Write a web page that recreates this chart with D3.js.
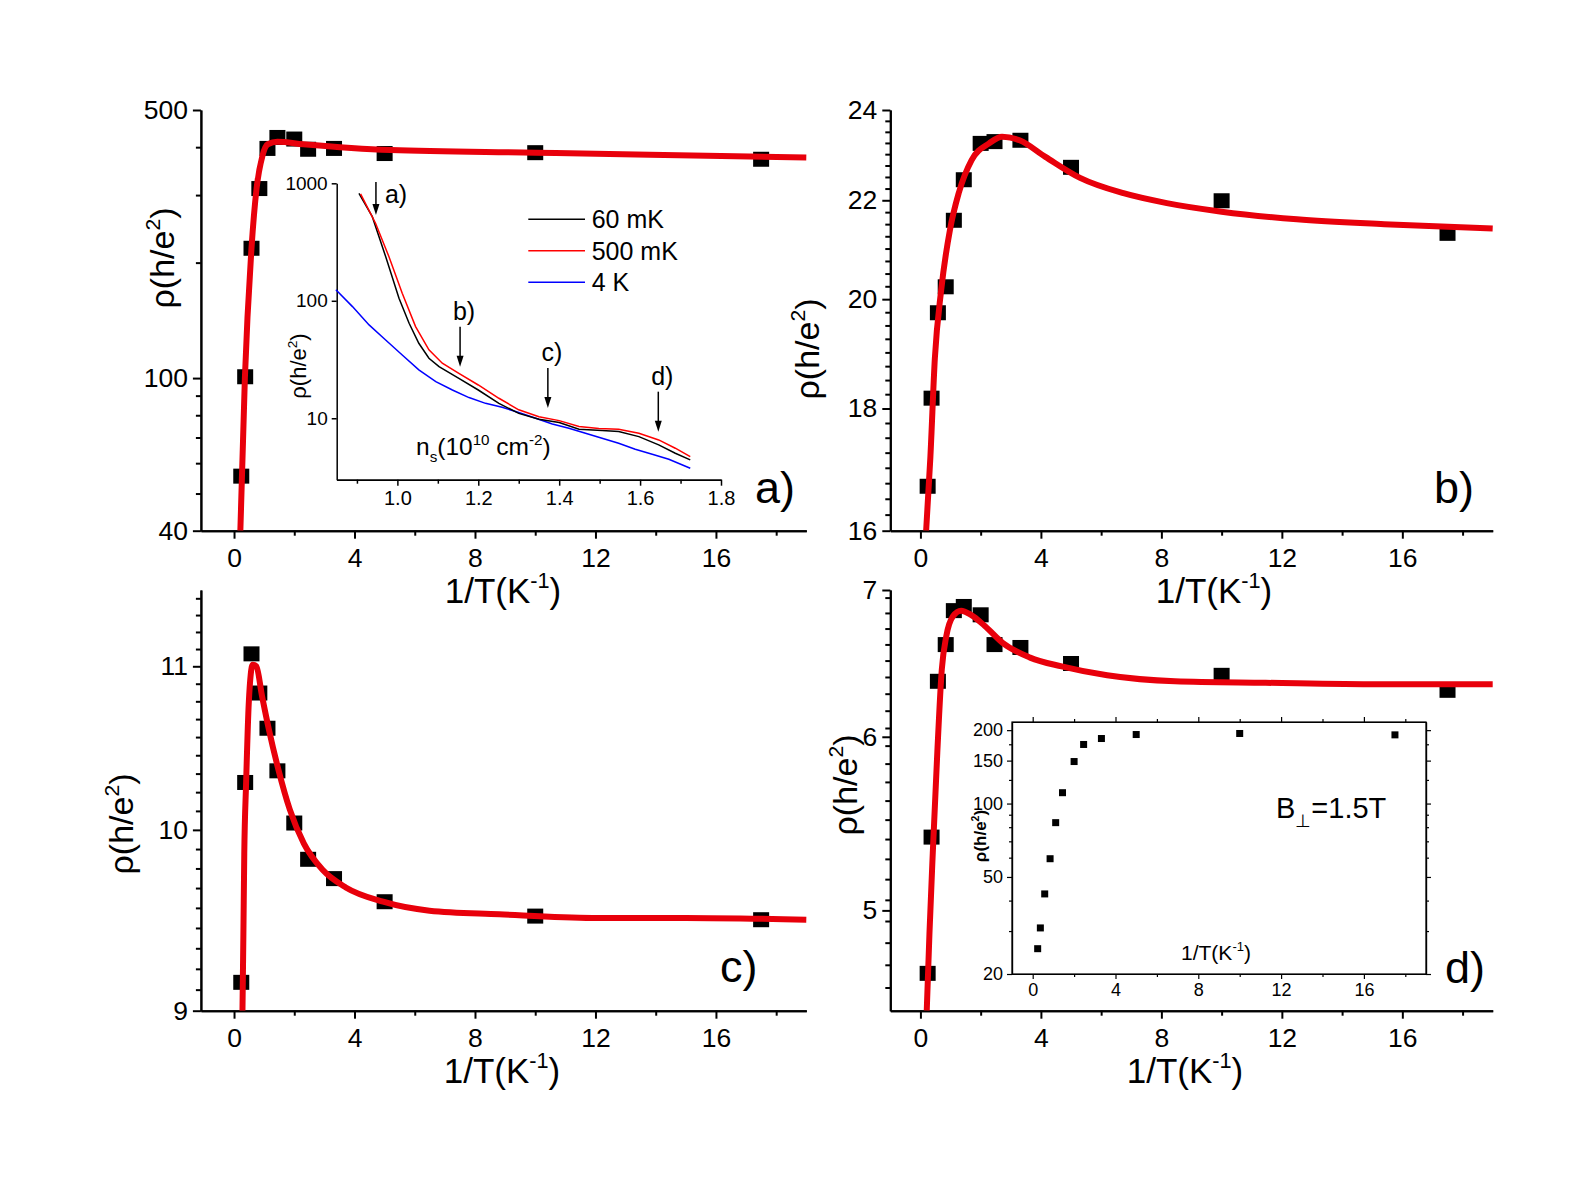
<!DOCTYPE html>
<html>
<head>
<meta charset="utf-8">
<script src="https://cdn.jsdelivr.net/npm/d3@7"></script>
<style>
  html, body { margin: 0; padding: 0; background: #fff; }
  svg { display: block; }
</style>
</head>
<body>
<svg id="fig" width="1582" height="1186"></svg>
<script>
// resistivity vs 1/T, four densities a)-d), with two insets

// 1/T values (K^-1) shared by all panels
const INV_T = [0.24, 0.37, 0.58, 0.84, 1.11, 1.44, 2.0, 2.46, 3.32, 5.0, 10.0, 17.5];

// measured rho (h/e^2)
const RHO_A = [55.5, 100.8, 218, 312, 397, 424, 420, 395, 397, 385, 387, 372];
const RHO_B = [16.70, 18.18, 19.74, 20.24, 21.58, 22.44, 23.24, 23.28, 23.31, 22.71, 21.99, 21.31];
const RHO_C = [9.15, 10.28, 11.08, 10.83, 10.61, 10.35, 10.04, 9.83, 9.72, 9.59, 9.51, 9.49];
const RHO_D = [4.68, 5.40, 6.36, 6.61, 6.85, 6.88, 6.82, 6.61, 6.59, 6.48, 6.40, 6.30];
const RHO_D_FIELD = [25.4, 30.9, 42.6, 59.4, 83.5, 110.8, 148.7, 174.7, 184.8, 191.9, 193.8, 191.3];

// fit curves
const FIT_A_X = [0.21, 0.36, 0.58, 0.75, 0.94, 1.12, 1.44, 2.3, 5.2, 10.0, 13.8, 19.0];
const FIT_A_Y = [40, 100, 218, 313, 379, 407, 413, 407, 393, 387, 382, 376];
const FIT_B_X = [0.19, 0.33, 0.48, 0.69, 0.98, 1.27, 1.70, 2.28, 2.71, 3.29, 4.15, 5.30, 6.74, 8.18, 10.0, 12.5, 15.4, 19.0];
const FIT_B_Y = [16.0, 17.17, 18.9, 20.18, 21.38, 22.15, 22.87, 23.24, 23.39, 23.31, 22.94, 22.48, 22.15, 21.94, 21.76, 21.60, 21.50, 21.41];
const FIT_C_X = [0.28, 0.31, 0.34, 0.40, 0.49, 0.62, 0.74, 0.93, 1.16, 1.47, 1.85, 2.32, 2.94, 3.71, 4.95, 6.49, 8.81, 11.9, 15.0, 19.0];
const FIT_C_Y = [9.0, 9.40, 9.86, 10.27, 10.77, 11.01, 11.0, 10.81, 10.60, 10.36, 10.12, 9.92, 9.77, 9.67, 9.59, 9.54, 9.52, 9.50, 9.50, 9.49];
const FIT_D_X = [0.21, 0.30, 0.41, 0.56, 0.71, 0.86, 1.08, 1.35, 1.68, 2.14, 2.74, 3.64, 4.69, 6.20, 8.45, 11.46, 15.2, 19.0];
const FIT_D_Y = [4.5, 4.88, 5.31, 5.90, 6.44, 6.67, 6.81, 6.85, 6.82, 6.74, 6.62, 6.52, 6.46, 6.40, 6.36, 6.35, 6.34, 6.34];

// inset a): rho vs n_s (10^10 cm^-2)
const NS_60MK_X = [0.905, 0.938, 0.971, 1.004, 1.029, 1.053, 1.078, 1.103, 1.152, 1.2, 1.251, 1.30, 1.35, 1.40, 1.449, 1.506, 1.547, 1.597, 1.646, 1.687, 1.724];
const NS_60MK_Y = [822, 520, 238, 105, 64.4, 43.5, 32.4, 27.5, 21.9, 17.4, 13.4, 11.0, 9.8, 9.2, 8.06, 7.85, 7.7, 6.98, 5.93, 5.04, 4.42];
const NS_500MK_X = [0.909, 0.946, 0.979, 1.012, 1.045, 1.078, 1.111, 1.152, 1.2, 1.251, 1.30, 1.35, 1.40, 1.449, 1.498, 1.547, 1.597, 1.646, 1.687, 1.724];
const NS_500MK_Y = [812, 457, 238, 116, 60.3, 38.2, 29.4, 24.1, 19.2, 14.8, 11.8, 10.3, 9.55, 8.5, 8.2, 8.06, 7.45, 6.54, 5.56, 4.72];
const NS_4K_X = [0.848, 0.889, 0.93, 0.971, 1.012, 1.053, 1.095, 1.136, 1.177, 1.218, 1.259, 1.30, 1.342, 1.383, 1.424, 1.465, 1.506, 1.547, 1.588, 1.63, 1.671, 1.724];
const NS_4K_Y = [124, 89.2, 62.3, 46.4, 34.6, 25.8, 20.5, 17.4, 15.0, 13.4, 12.4, 11.2, 10.0, 8.95, 8.22, 7.45, 6.76, 6.13, 5.45, 4.94, 4.48, 3.75];
const LEGEND_NAMES = ['60 mK', '500 mK', '4 K'];
const ARROW_LABELS = ['a)', 'b)', 'c)', 'd)'];
const ARROW_NS = [0.947, 1.155, 1.372, 1.645];
const ARROW_TIP_RHO = [537, 27.5, 12.2, 7.69];

// tick values
const X_MAJOR = [0, 4, 8, 12, 16];
const X_MINOR = [2, 6, 10, 14, 18];
const A_Y_TICKS = [40, 100, 500];
const A_Y_MINOR = [50, 60, 70, 80, 90, 200, 300, 400];
const B_Y_TICKS = [16, 18, 20, 22, 24];
const C_Y_TICKS = [9, 10, 11];
const D_Y_TICKS = [5, 6, 7];
const INSET_A_X_TICKS = [1.0, 1.2, 1.4, 1.6, 1.8];
const INSET_A_X_MINOR = [0.9, 1.1, 1.3, 1.5, 1.7];
const INSET_A_Y_TICKS = [10, 100, 1000];
const INSET_D_Y_TICKS = [20, 50, 100, 150, 200];
const INSET_D_Y_MINOR = [30, 40, 60, 70, 80, 90, 125, 175];

(function () {
    'use strict';

    const FONT = '"Liberation Sans", Arial, Helvetica, sans-serif';
    const RED = '#e8000b';
    const TICK_FS = 26.5;
    const svg = d3.select('#fig').attr('font-family', FONT);

    // minor ticks evenly spaced between majors (Origin style)
    function evenMinor(lo, hi, step) {
        return d3.range(lo, hi + 1e-9, step).filter(function (v) {
            return Math.abs(v - Math.round(v)) > 1e-6;
        });
    }

    const PANELS = [
        { id: 'a', left: 200.9, right: 806.3, top: 110, bottom: 530.7, xMin: -1.1,
          yDomain: [40, 500], yTicks: A_Y_TICKS, yMinor: A_Y_MINOR,
          rho: RHO_A, fitX: FIT_A_X, fitY: FIT_A_Y,
          label: 'a)', labelX: 755, labelY: 503, yTitleX: 174, yTitleY: 258, xTitleX: 503 },
        { id: 'b', left: 890.3, right: 1492.7, top: 110, bottom: 530.7, xMin: -1,
          yDomain: [16, 24], yTicks: B_Y_TICKS, yMinor: d3.range(16.25, 24, 0.25).filter(function (v) { return v % 2 !== 0; }),
          rho: RHO_B, fitX: FIT_B_X, fitY: FIT_B_Y,
          label: 'b)', labelX: 1434, labelY: 503, yTitleX: 819, yTitleY: 349, xTitleX: 1214 },
        { id: 'c', left: 200.9, right: 806.3, top: 590, bottom: 1010.7, xMin: -1.1,
          yDomain: [9, 11.5], yTicks: C_Y_TICKS, yMinor: evenMinor(9, 11.5, 1 / 9),
          rho: RHO_C, fitX: FIT_C_X, fitY: FIT_C_Y,
          label: 'c)', labelX: 720, labelY: 982, yTitleX: 133, yTitleY: 824, xTitleX: 502 },
        { id: 'd', left: 890.3, right: 1492.7, top: 590, bottom: 1010.7, xMin: -1,
          yDomain: [4.5, 7], yTicks: D_Y_TICKS, yMinor: evenMinor(4.5, 7, 1 / 9).filter(function (v) { return v > 4.5; }),
          rho: RHO_D, fitX: FIT_D_X, fitY: FIT_D_Y,
          label: 'd)', labelX: 1445, labelY: 983, yTitleX: 857, yTitleY: 785, xTitleX: 1185 }
    ];

    /**
     * write text made of normal / superscript / subscript pieces
     */
    function richText(textSel, parts, fs) {
        let shift = 0;
        parts.forEach(function (p) {
            const t = textSel.append('tspan').text(p[0]);
            let target = 0;
            if (p[1] === 'sup') { target = -0.42 * fs; }
            if (p[1] === 'sub') { target = 0.3 * fs; }
            t.attr('dy', target - shift);
            shift = target;
            if (p[1]) { t.attr('font-size', (0.62 * fs) + 'px'); }
        });
        return textSel;
    }

    function styleAxis(sel, width, fs) {
        sel.attr('font-family', FONT);
        sel.select('.domain').attr('stroke', '#000').attr('stroke-width', width);
        sel.selectAll('.tick line').attr('stroke', '#000').attr('stroke-width', width);
        sel.selectAll('.tick text').attr('fill', '#000').attr('font-size', fs + 'px');
    }

    const RHO_PARTS = [['\u03c1(h/e'], ['2', 'sup'], [')']];
    const INVT_PARTS = [['1/T(K'], ['-1', 'sup'], [')']];

    function drawMainPanel(p) {
        const x = d3.scaleLinear().domain([p.xMin, 19]).range([p.left, p.right]);
        const y = d3.scaleLog().domain(p.yDomain).range([p.bottom, p.top]);
        const g = svg.append('g').attr('class', 'panel-' + p.id);

        g.append('clipPath').attr('id', 'clip-' + p.id)
            .append('rect')
            .attr('x', p.left).attr('y', p.top)
            .attr('width', p.right - p.left + 4).attr('height', p.bottom - p.top);

        // axes: minor ticks, then major ticks with labels
        g.append('g').attr('transform', 'translate(0,' + p.bottom + ')')
            .call(d3.axisBottom(x).tickValues(X_MINOR).tickSize(5).tickSizeOuter(0).tickFormat(''))
            .call(styleAxis, 2, TICK_FS);
        g.append('g').attr('transform', 'translate(0,' + p.bottom + ')')
            .call(d3.axisBottom(x).tickValues(X_MAJOR).tickSize(8).tickSizeOuter(0).tickPadding(9).tickFormat(d3.format('d')))
            .call(styleAxis, 2, TICK_FS);
        g.append('g').attr('transform', 'translate(' + p.left + ',0)')
            .call(d3.axisLeft(y).tickValues(p.yMinor).tickSize(5).tickSizeOuter(0).tickFormat(''))
            .call(styleAxis, 2, TICK_FS);
        g.append('g').attr('transform', 'translate(' + p.left + ',0)')
            .call(d3.axisLeft(y).tickValues(p.yTicks).tickSize(8).tickSizeOuter(0).tickPadding(5).tickFormat(d3.format('d')))
            .call(styleAxis, 2, TICK_FS);

        // data squares
        g.append('g').selectAll('rect')
            .data(p.rho.map(function (v, i) { return { t: INV_T[i], v: v }; }))
            .enter().append('rect')
            .attr('x', function (d) { return x(d.t) - 8; })
            .attr('y', function (d) { return y(d.v) - 7.5; })
            .attr('width', 16).attr('height', 15)
            .attr('fill', '#000');

        // fit line
        const line = d3.line()
            .x(function (d) { return x(d[0]); })
            .y(function (d) { return y(d[1]); })
            .curve(d3.curveMonotoneX);
        g.append('path')
            .datum(p.fitX.map(function (v, i) { return [v, p.fitY[i]]; }))
            .attr('clip-path', 'url(#clip-' + p.id + ')')
            .attr('d', line)
            .attr('fill', 'none')
            .attr('stroke', RED)
            .attr('stroke-width', 6)
            .attr('stroke-linejoin', 'round');

        // titles
        richText(g.append('text')
            .attr('x', p.xTitleX).attr('y', p.bottom + 72)
            .attr('text-anchor', 'middle')
            .attr('font-size', '35px'), INVT_PARTS, 35);
        richText(g.append('text')
            .attr('transform', 'translate(' + p.yTitleX + ',' + p.yTitleY + ') rotate(-90)')
            .attr('text-anchor', 'middle')
            .attr('font-size', '34px'), RHO_PARTS, 34);
        g.append('text')
            .attr('x', p.labelX).attr('y', p.labelY)
            .attr('font-size', '45px')
            .text(p.label);
    }

    PANELS.forEach(drawMainPanel);

    // ---------------- inset of panel a) ----------------
    (function drawInsetA() {
        const g = svg.append('g').attr('class', 'inset-a');
        const x = d3.scaleLinear().domain([0.85, 1.8]).range([336.7, 721]);
        const y = d3.scaleLog().domain([3, 1000]).range([479.7, 183.3]);

        g.append('g').attr('transform', 'translate(0,479.7)')
            .call(d3.axisBottom(x).tickValues(INSET_A_X_MINOR).tickSize(4).tickSizeOuter(0).tickFormat(''))
            .call(styleAxis, 1.5, 20);
        g.append('g').attr('transform', 'translate(0,479.7)')
            .call(d3.axisBottom(x).tickValues(INSET_A_X_TICKS).tickSize(6).tickSizeOuter(0).tickPadding(5).tickFormat(d3.format('.1f')))
            .call(styleAxis, 1.5, 20);
        g.append('g').attr('transform', 'translate(336.7,0)')
            .call(d3.axisLeft(y).tickValues(INSET_A_Y_TICKS).tickSize(5).tickSizeOuter(0).tickPadding(4).tickFormat(d3.format('d')))
            .call(styleAxis, 1.5, 19);

        const line = d3.line()
            .x(function (d) { return x(d[0]); })
            .y(function (d) { return y(d[1]); });
        const series = [
            { xs: NS_4K_X, ys: NS_4K_Y, color: '#0000ff' },
            { xs: NS_60MK_X, ys: NS_60MK_Y, color: '#000000' },
            { xs: NS_500MK_X, ys: NS_500MK_Y, color: '#ff0000' }
        ];
        series.forEach(function (s) {
            g.append('path')
                .datum(s.xs.map(function (v, i) { return [v, s.ys[i]]; }))
                .attr('d', line)
                .attr('fill', 'none')
                .attr('stroke', s.color)
                .attr('stroke-width', 1.5);
        });

        // legend
        const legendColors = ['#000000', '#ff0000', '#0000ff'];
        LEGEND_NAMES.forEach(function (name, i) {
            const ly = 219.3 + i * 31.5;
            g.append('line')
                .attr('x1', 528.3).attr('x2', 585)
                .attr('y1', ly).attr('y2', ly)
                .attr('stroke', legendColors[i]).attr('stroke-width', 1.5);
            g.append('text')
                .attr('x', 591.7).attr('y', ly + 9)
                .attr('font-size', '25px')
                .text(name);
        });

        // arrows pointing to the densities of panels a)-d)
        ARROW_LABELS.forEach(function (lab, i) {
            const ax = x(ARROW_NS[i]);
            const tip = y(ARROW_TIP_RHO[i]);
            const len = i === 0 ? 33 : 40;
            g.append('line')
                .attr('x1', ax).attr('x2', ax)
                .attr('y1', tip - len).attr('y2', tip - 8)
                .attr('stroke', '#000').attr('stroke-width', 1.5);
            g.append('path')
                .attr('d', 'M' + ax + ',' + tip + 'L' + (ax - 3.5) + ',' + (tip - 11) + 'L' + (ax + 3.5) + ',' + (tip - 11) + 'Z')
                .attr('fill', '#000');
            if (i === 0) {
                g.append('text').attr('x', ax + 9).attr('y', tip - 12)
                    .attr('font-size', '25px').text(lab);
            } else {
                g.append('text').attr('x', ax + 4).attr('y', tip - len - 7)
                    .attr('text-anchor', 'middle')
                    .attr('font-size', '25px').text(lab);
            }
        });

        richText(g.append('text')
            .attr('transform', 'translate(306,366) rotate(-90)')
            .attr('text-anchor', 'middle')
            .attr('font-size', '22px'), RHO_PARTS, 22);
        richText(g.append('text')
            .attr('x', 416).attr('y', 455)
            .attr('font-size', '24.5px'),
            [['n'], ['s', 'sub'], ['(10'], ['10', 'sup'], [' cm'], ['-2', 'sup'], [')']], 24.5);
    })();

    // ---------------- inset of panel d) ----------------
    (function drawInsetD() {
        const g = svg.append('g').attr('class', 'inset-d');
        const L = 1012, R = 1426, T = 722, B = 974;
        const x = d3.scaleLinear().domain([-1, 19]).range([L, R]);
        const y = d3.scaleLog().domain([20, 216]).range([B, T]);

        g.append('rect')
            .attr('x', L).attr('y', T).attr('width', R - L).attr('height', B - T)
            .attr('fill', 'none').attr('stroke', '#000').attr('stroke-width', 1.2);

        function ax(gen, tx, ty, vals, size, labels) {
            const a = gen.tickValues(vals).tickSize(size).tickSizeOuter(0).tickPadding(4);
            if (!labels) { a.tickFormat(''); } else { a.tickFormat(d3.format('d')); }
            g.append('g').attr('transform', 'translate(' + tx + ',' + ty + ')')
                .call(a).call(styleAxis, 1.2, 18);
        }
        ax(d3.axisBottom(x), 0, B, X_MINOR, 3, false);
        ax(d3.axisBottom(x), 0, B, X_MAJOR, 5, true);
        ax(d3.axisTop(x), 0, T, X_MINOR, 3, false);
        ax(d3.axisTop(x), 0, T, X_MAJOR, 5, false);
        ax(d3.axisLeft(y), L, 0, INSET_D_Y_MINOR, 3, false);
        ax(d3.axisLeft(y), L, 0, INSET_D_Y_TICKS, 5, true);
        ax(d3.axisRight(y), R, 0, INSET_D_Y_MINOR, 3, false);
        ax(d3.axisRight(y), R, 0, INSET_D_Y_TICKS, 5, false);

        g.append('g').selectAll('rect')
            .data(RHO_D_FIELD.map(function (v, i) { return { t: INV_T[i], v: v }; }))
            .enter().append('rect')
            .attr('x', function (d) { return x(d.t) - 3.5; })
            .attr('y', function (d) { return y(d.v) - 3.5; })
            .attr('width', 7).attr('height', 7)
            .attr('fill', '#000');

        richText(g.append('text')
            .attr('x', 1216).attr('y', 960)
            .attr('text-anchor', 'middle')
            .attr('font-size', '21px'), INVT_PARTS, 21);
        richText(g.append('text')
            .attr('transform', 'translate(986,836) rotate(-90)')
            .attr('text-anchor', 'middle')
            .attr('font-weight', 'bold')
            .attr('font-size', '17px'), RHO_PARTS, 17);
        richText(g.append('text')
            .attr('x', 1276).attr('y', 818)
            .attr('font-size', '29px'),
            [['B'], ['\u22a5', 'sub'], ['=1.5T']], 29);
    })();
})();
</script>
</body>
</html>
